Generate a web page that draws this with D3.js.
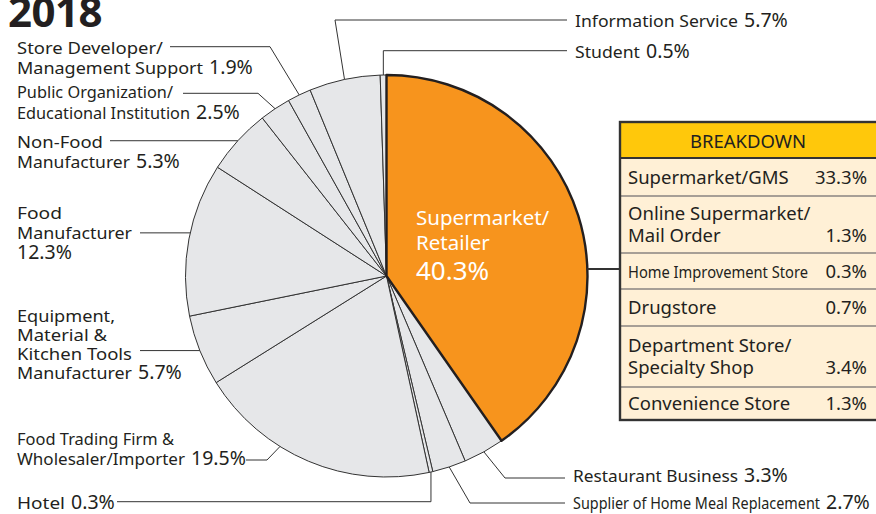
<!DOCTYPE html>
<html><head><meta charset="utf-8">
<script src="https://cdn.jsdelivr.net/npm/d3@7"></script>
<style>
html,body{margin:0;padding:0;background:#fff;}
svg{display:block;}
</style></head>
<body>
<svg id="chart" width="876" height="514"></svg>
<script>
// ---------- DATA ----------
const title = "2018";
const categories = [
  "Supermarket/Retailer", "Restaurant Business", "Supplier of Home Meal Replacement", "Hotel",
  "Food Trading Firm & Wholesaler/Importer", "Equipment, Material & Kitchen Tools Manufacturer",
  "Food Manufacturer", "Non-Food Manufacturer", "Public Organization/Educational Institution",
  "Store Developer/Management Support", "Information Service", "Student"
];
const values = [40.3, 3.3, 2.7, 0.3, 19.5, 5.7, 12.3, 5.3, 2.5, 1.9, 5.7, 0.5];
const labelLines = [
  ["Supermarket/", "Retailer"],
  ["Restaurant Business"],
  ["Supplier of Home Meal Replacement"],
  ["Hotel"],
  ["Food Trading Firm &", "Wholesaler/Importer"],
  ["Equipment,", "Material &", "Kitchen Tools", "Manufacturer"],
  ["Food", "Manufacturer", ""],
  ["Non-Food", "Manufacturer"],
  ["Public Organization/", "Educational Institution"],
  ["Store Developer/", "Management Support"],
  ["Information Service"],
  ["Student"]
];
const breakdownTitle = "BREAKDOWN";
const breakdownLabels = [
  ["Supermarket/GMS"], ["Online Supermarket/", "Mail Order"], ["Home Improvement Store"],
  ["Drugstore"], ["Department Store/", "Specialty Shop"], ["Convenience Store"]
];
const breakdownValues = [33.3, 1.3, 0.3, 0.7, 3.4, 1.3];

// ---------- LAYOUT ----------
const cx = 386.5, cy = 276, R = 201;
const FONT = "'Noto Sans', 'Open Sans', sans-serif";
const GRAY = "#e6e7e9", ORANGE = "#f7941d", LINE = "#333";
const LABEL_FS = 17, VALUE_FS = 19.5;

// per-slice label layout (index aligned with categories); w = rendered width of each text line
const labelLayout = [
  null,
  {x: 573, y: 482, lh: 20, t: 0.5, w: [165], path: [[565, 478], [505, 478]]},
  {x: 573, y: 509, lh: 20, t: 0.5, w: [247], path: [[565, 503], [470, 503]]},
  {x: 17, y: 509, lh: 20, t: 0.5, w: [48], path: [[117, 501.7]], vertical: true},
  {x: 17, y: 445, lh: 20, t: 0.63, w: [157, 168], path: [[246, 460], [267, 460]]},
  {x: 17, y: 322, lh: 19, t: 0.5, w: [98, 90, 115, 115], horiz: 140},
  {x: 17, y: 219, lh: 20, t: 0.54, w: [45, 115, 0], horiz: 140},
  {x: 17, y: 148, lh: 20, t: 0.5, w: [86, 113], horiz: 110},
  {x: 17, y: 98, lh: 21, t: 0.5, w: [156, 173], path: [[183, 93.3], [258, 93.3]]},
  {x: 17, y: 54, lh: 20, t: 0.5, w: [146, 186], path: [[170, 46.7], [270, 46.7]]},
  {x: 575, y: 27, lh: 20, t: 0.5, w: [163], path: [[567, 20], [335, 20]]},
  {x: 575, y: 58, lh: 20, t: 0.5, w: [65], path: [[567, 50.7]], vertical: true}
];

const svg = d3.select("#chart");

// Title
svg.append("text").attr("x", 8).attr("y", 27)
  .attr("font-family", "'Open Sans', sans-serif").attr("font-weight", 700)
  .attr("font-size", 42).attr("fill", "#231f20").attr("letter-spacing", -0.5).text(title);

// Pie
const pie = d3.pie().sort(null).value(d => d).startAngle(0).endAngle(2 * Math.PI);
const arcs = pie(values);
const arc = d3.arc().innerRadius(0).outerRadius(R);
const g = svg.append("g").attr("transform", `translate(${cx},${cy})`);

g.selectAll("path.gray").data(arcs.filter((d, i) => i !== 0)).join("path")
  .attr("class", "gray").attr("d", arc).attr("fill", GRAY)
  .attr("stroke", LINE).attr("stroke-width", 1).attr("stroke-linejoin", "round");
g.append("path").datum(arcs[0]).attr("d", arc).attr("fill", ORANGE)
  .attr("stroke", "#231f20").attr("stroke-width", 2.4).attr("stroke-linejoin", "round");

// inner label
const lab0 = svg.append("text").attr("font-family", FONT).attr("fill", "#fff");
labelLines[0].forEach((s, k) => {
  lab0.append("tspan").attr("x", 416).attr("y", 225 + k * 25).attr("font-size", 20.5).text(s);
});
lab0.append("tspan").attr("x", 416).attr("y", 280).attr("font-size", 26).text(values[0].toFixed(1) + "%");

// point on rim
function rim(d, t) {
  const a = d.startAngle + (d.endAngle - d.startAngle) * t;
  return [cx + R * Math.sin(a), cy - R * Math.cos(a)];
}

// leader lines and labels
const lineG = svg.append("g").attr("fill", "none").attr("stroke", "#333").attr("stroke-width", 1);
labelLayout.forEach((L, i) => {
  if (!L) return;
  const a = rim(arcs[i], L.t);
  let pts;
  if (L.horiz !== undefined) pts = [[L.horiz, a[1]], a];
  else if (L.vertical) pts = [L.path[0], [a[0], L.path[0][1]], a];
  else pts = [...L.path, a];
  lineG.append("path").attr("d", d3.line()(pts));

  const lines = labelLines[i];
  lines.forEach((s, k) => {
    const y = L.y + k * L.lh;
    const last = k === lines.length - 1;
    let x = L.x;
    if (s) {
      svg.append("text").attr("x", x).attr("y", y)
        .attr("font-family", FONT).attr("fill", "#231f20").attr("font-size", LABEL_FS)
        .attr("textLength", L.w[k]).attr("lengthAdjust", "spacingAndGlyphs").text(s);
      x = x + L.w[k] + 6;
    }
    if (last) {
      svg.append("text").attr("x", x).attr("y", y)
        .attr("font-family", FONT).attr("fill", "#231f20").attr("font-size", VALUE_FS)
        .text(values[i].toFixed(1) + "%");
    }
  });
});

// connector to breakdown
const connectY = 269;
const edgeX = cx + Math.sqrt(R * R - (connectY - cy) * (connectY - cy));
lineG.append("path").attr("d", d3.line()([[edgeX, connectY], [620, connectY]]))
  .attr("stroke-width", 2).attr("stroke", "#333");

// Breakdown table
const tx = 620, tTop = 122, tRight = 882;
const rowBounds = [158, 196, 253, 289, 326, 387, 420];
const tbl = svg.append("g");
tbl.append("rect").attr("x", tx).attr("y", tTop).attr("width", tRight - tx).attr("height", rowBounds[0] - tTop)
  .attr("fill", "#ffc80b");
tbl.append("rect").attr("x", tx).attr("y", rowBounds[0]).attr("width", tRight - tx)
  .attr("height", rowBounds[rowBounds.length - 1] - rowBounds[0]).attr("fill", "#fff0d6");
rowBounds.slice(1, -1).forEach(y => {
  tbl.append("line").attr("x1", tx).attr("x2", tRight).attr("y1", y).attr("y2", y)
    .attr("stroke", "#8a8580").attr("stroke-width", 1.6);
});
tbl.append("line").attr("x1", tx).attr("x2", tRight).attr("y1", rowBounds[0]).attr("y2", rowBounds[0])
  .attr("stroke", "#333").attr("stroke-width", 2);
tbl.append("rect").attr("x", tx).attr("y", tTop).attr("width", tRight - tx)
  .attr("height", rowBounds[rowBounds.length - 1] - tTop)
  .attr("fill", "none").attr("stroke", "#333").attr("stroke-width", 2.4);
tbl.append("text").attr("x", 748).attr("y", 147.5).attr("text-anchor", "middle")
  .attr("font-family", FONT).attr("font-size", 18.5).attr("fill", "#231f20").text(breakdownTitle);

breakdownLabels.forEach((lines, i) => {
  const top = rowBounds[i], bot = rowBounds[i + 1];
  const n = lines.length;
  const lh = 22.5;
  const lastBase = (top + bot) / 2 + 6.5 + (n - 1) * lh / 2;
  lines.forEach((s, k) => {
    const t = tbl.append("text").attr("x", 628).attr("y", lastBase - (n - 1 - k) * lh)
      .attr("font-family", FONT).attr("font-size", i === 2 ? 17 : 18.5).attr("fill", "#231f20").text(s);
    if (i === 2) t.attr("textLength", 180).attr("lengthAdjust", "spacingAndGlyphs");
  });
  tbl.append("text").attr("x", 867).attr("y", lastBase).attr("text-anchor", "end")
    .attr("font-family", FONT).attr("font-size", 18.5).attr("fill", "#231f20")
    .text(breakdownValues[i].toFixed(1) + "%");
});
</script>
</body></html>
